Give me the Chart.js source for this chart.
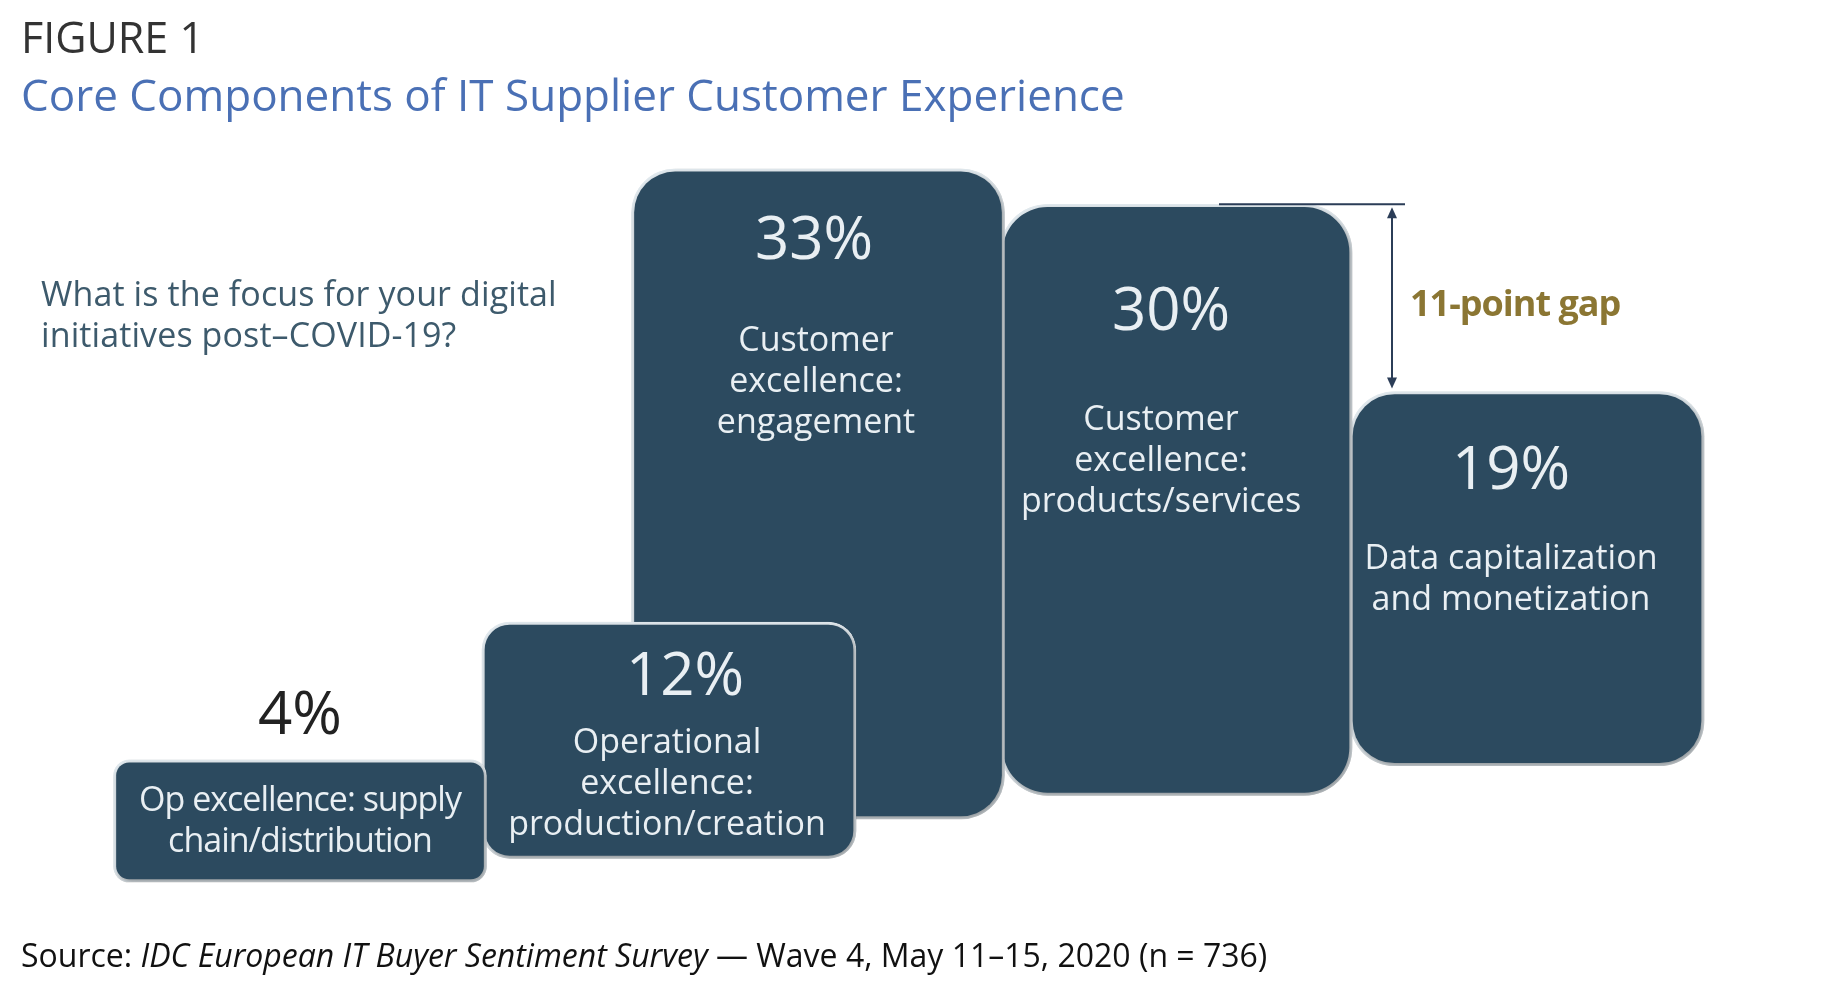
<!DOCTYPE html>
<html lang="en">
<head>
    <meta charset="utf-8">
    <title>Core Components of IT Supplier Customer Experience</title>
    <script src="https://cdn.jsdelivr.net/npm/chart.js"></script>
    <style>
        body { margin: 0; background: #fff; font-family: "Open Sans", sans-serif; }
        .page { position: relative; width: 1832px; height: 988px; overflow: hidden; }
        .chart-box { position: absolute; left: 0; top: 0; width: 1832px; height: 988px; }
        .fig { position: absolute; left: 21px; top: 15px; font-size: 43px; line-height: 43px; color: #333; }
        .title { position: absolute; left: 21px; top: 72px; font-size: 44px; line-height: 44px; color: #4a70b5; }
        .question { position: absolute; left: 41px; top: 273px; font-size: 34px; line-height: 41px; color: #3d5a6c; letter-spacing: 0.1px; }
        .source { position: absolute; left: 21px; top: 939px; font-size: 32px; line-height: 32px; color: #111; }
    </style>
</head>
<body>
<div class="page">
    <div class="chart-box"><canvas id="stairs"></canvas></div>
    <div class="fig">FIGURE 1</div>
    <div class="title">Core Components of IT Supplier Customer Experience</div>
    <div class="question">What is the focus for your digital<br>initiatives post–COVID-19?</div>
    <div class="source">Source: <i>IDC European IT Buyer Sentiment Survey</i> — Wave 4, May 11–15, 2020 (n = 736)</div>
</div>

<script>
    // data
    const categories = [
        ['Op excellence: supply', 'chain/distribution'],
        ['Operational', 'excellence:', 'production/creation'],
        ['Customer', 'excellence:', 'engagement'],
        ['Customer', 'excellence:', 'products/services'],
        ['Data capitalization', 'and monetization']
    ];
    const values = [4, 12, 33, 30, 19];

    // staircase layout (x in px of the x scale, y in percentage points)
    const boxX = [300, 669, 818, 1176, 1527];
    const boxWidth = [373, 374, 373, 352, 354];
    const boxBase = [0, 1.2, 3.2, 4.4, 5.9];
    const boxRadius = [16, 28, 44, 48, 45];
    const minBox = 6.2; // the 4% tile is a label tile, kept tall enough for its text
    const pctDrop = [-26, 73, 90, 126, 98];
    const descDrop = [51, 58, 92, 100, 80];
    const pctDx = [0, 16, -4, -5, -16];
    const descDx = [0, -2, -2, -15, -16];

    const FILL = '#2c4a5f';
    const EDGE = '#e3ebf0';
    const INK = '#e9eff3';

    const datasets = values.map((v, i) => ({
        label: categories[i].join(' '),
        data: [{ x: boxX[i], y: [boxBase[i], boxBase[i] + Math.max(v, minBox)] }],
        backgroundColor: FILL,
        borderColor: EDGE,
        borderWidth: 3,
        borderSkipped: false,
        borderRadius: boxRadius[i],
        barThickness: boxWidth[i],
        grouped: false
    }));

    const shadowPlugin = {
        id: 'shadow',
        beforeDatasetDraw(chart) {
            const ctx = chart.ctx;
            ctx.save();
            ctx.shadowColor = 'rgba(0,0,0,0.38)';
            ctx.shadowBlur = 6;
            ctx.shadowOffsetX = 2;
            ctx.shadowOffsetY = 3;
        },
        afterDatasetDraw(chart) {
            chart.ctx.restore();
        }
    };

    const labelPlugin = {
        id: 'labels',
        afterDatasetsDraw(chart) {
            const ctx = chart.ctx;
            ctx.save();
            ctx.textAlign = 'center';
            ctx.textBaseline = 'alphabetic';
            values.forEach((v, i) => {
                const el = chart.getDatasetMeta(i).data[0];
                const top = Math.min(el.y, el.base);
                const small = v < minBox;
                ctx.font = '60px "Open Sans"';
                ctx.fillStyle = small ? '#222' : INK;
                const pctY = top + pctDrop[i];
                ctx.fillText(v + '%', el.x + pctDx[i], pctY);
                ctx.font = '34px "Open Sans"';
                ctx.fillStyle = INK;
                ctx.letterSpacing = small ? '-1px' : '0px';
                const y0 = small ? top + descDrop[i] : pctY + descDrop[i];
                categories[i].forEach((line, j) => ctx.fillText(line, el.x + descDx[i], y0 + j * 41));
                ctx.letterSpacing = '0px';
            });

            // gap annotation between the products/services tile and the data tile
            const a = chart.getDatasetMeta(3).data[0];
            const b = chart.getDatasetMeta(4).data[0];
            const aTop = Math.min(a.y, a.base);
            const bTop = Math.min(b.y, b.base);
            const right = a.x + boxWidth[3] / 2;
            const ax = right + 40;
            ctx.strokeStyle = '#2b3d57';
            ctx.fillStyle = '#2b3d57';
            ctx.lineWidth = 2;
            ctx.beginPath();
            ctx.moveTo(a.x + 43, aTop);
            ctx.lineTo(right + 53, aTop);
            ctx.moveTo(ax, aTop + 6);
            ctx.lineTo(ax, bTop - 6);
            ctx.stroke();
            [[aTop + 3, 1], [bTop - 3, -1]].forEach(([y, d]) => {
                ctx.beginPath();
                ctx.moveTo(ax, y);
                ctx.lineTo(ax - 5, y + d * 11);
                ctx.lineTo(ax + 5, y + d * 11);
                ctx.closePath();
                ctx.fill();
            });
            ctx.textAlign = 'left';
            ctx.textBaseline = 'middle';
            ctx.font = 'bold 36px "Open Sans"';
            ctx.letterSpacing = '-1px';
            ctx.fillStyle = '#8b7633';
            ctx.fillText((values[3] - values[4]) + '-point gap', ax + 18, (aTop + bTop) / 2 + 8);
            ctx.restore();
        }
    };

    new Chart(document.getElementById('stairs'), {
        type: 'bar',
        data: { datasets },
        options: {
            responsive: true,
            maintainAspectRatio: false,
            animation: false,
            events: [],
            layout: { padding: 0 },
            plugins: { legend: { display: false }, tooltip: { enabled: false } },
            scales: {
                x: { type: 'linear', min: 0, max: 1832, offset: false, display: false },
                y: { min: -5.38, max: 44.77, display: false }
            }
        },
        plugins: [shadowPlugin, labelPlugin]
    });
</script>
</body>
</html>
